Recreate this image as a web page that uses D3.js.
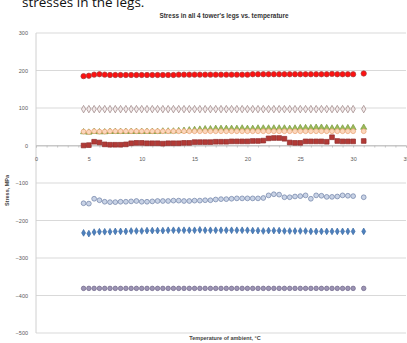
<!DOCTYPE html>
<html><head><meta charset="utf-8">
<script src="https://cdn.jsdelivr.net/npm/d3@7"></script>
<style>body{margin:0;background:#fff;}svg{display:block;}</style>
</head><body>
<script>
const temps = [4.5,5,5.5,6,6.5,7,7.5,8,8.5,9,9.5,10,10.5,11,11.5,12,12.5,13,13.5,14,14.5,15,15.5,16,16.5,17,17.5,18,18.5,19,19.5,20,20.5,21,21.5,22,22.5,23,23.5,24,24.5,25,25.5,26,26.5,27,27.5,28,28.5,29,29.5,30,31];
const legA = [185,186,189,190,189,188,188,188,188,188,188,188,188,188,188,188,188,188,189,189,189,189,189,189,189,189,189,189,189,189,189,189,190,190,190,190,190,190,190,190,190,190,190,190,190,190,190,191,190,190,190,190,192];
const legB = [97,97,97,97,97,97,97,97,97,97,97,97,97,97,97,97,97,97,97,97,97,97,97,97,97,97,97,97,97,97,97,97,97,97,97,97,97,97,97,97,97,97,97,97,97,97,97,97,97,97,97,97,97];
const legC = [37,36,38,37,37,38,38,38,38,38,38,38,38,38,38,38,38,38,38,38,38,38,38,38,38,38,38,38,38,38,38,38,38,38,38,38,38,38,38,38,38,38,38,38,38,38,38,38,38,38,38,38,38];
const legD = [36,35,37,36,36,37,37,37,37,37,37,37,37,37,37,38,38,38,39,40,41,42,43,44,44,45,45,45,45,45,46,45,45,46,46,46,46,46,46,45,46,47,47,47,48,48,47,46,47,46,47,47,48];
const legE = [0,1,10,8,3,2,2,2,3,6,7,7,6,6,6,5,6,6,6,7,7,9,9,9,9,10,10,10,11,11,11,11,12,12,13,19,20,20,18,8,7,7,11,11,11,11,10,22,12,11,11,11,12];
const legF = [-154,-155,-142,-146,-150,-151,-151,-150,-150,-149,-148,-150,-150,-149,-148,-148,-148,-147,-147,-148,-148,-147,-147,-146,-146,-144,-143,-143,-142,-141,-141,-141,-141,-141,-140,-133,-130,-131,-138,-138,-136,-135,-133,-142,-133,-134,-137,-137,-136,-133,-134,-135,-138];
const legG = [-233,-235,-231,-230,-230,-230,-229,-229,-229,-228,-228,-228,-227,-227,-227,-227,-226,-226,-226,-226,-226,-226,-225,-226,-226,-226,-226,-226,-226,-226,-226,-226,-227,-227,-228,-227,-227,-227,-228,-228,-228,-228,-228,-229,-229,-229,-229,-229,-229,-229,-229,-229,-229];
const legH = [-381,-381,-381,-381,-381,-381,-381,-381,-381,-381,-381,-381,-381,-381,-381,-381,-381,-381,-381,-381,-381,-381,-381,-381,-381,-381,-381,-381,-381,-381,-381,-381,-381,-381,-381,-381,-381,-381,-381,-381,-381,-381,-381,-381,-381,-381,-381,-381,-381,-381,-381,-381,-381];
const xTicks = [0,5,10,15,20,25,30,35];
const yTicks = [300,200,100,0,-100,-200,-300,-400,-500];

const W = 407, H = 343;
const svg = d3.select("body").append("svg").attr("width", W).attr("height", H);
const x = d3.scaleLinear().domain([0,35]).range([36,406]);
const y = d3.scaleLinear().domain([-500,300]).range([333,33]);

svg.append("text").attr("x",22).attr("y",7).attr("font-family","Open Sans, sans-serif")
  .attr("font-size",13.5).attr("fill","#111").text("stresses in the legs.");

svg.append("text").attr("x",224).attr("y",18).attr("text-anchor","middle")
  .attr("font-family","Liberation Sans, Arial, sans-serif").attr("font-size",6.4)
  .attr("font-weight","bold").attr("fill","#333").text("Stress in all 4 tower's legs vs. temperature");

svg.append("g").selectAll("line").data(yTicks).join("line")
  .attr("x1",36).attr("x2",406).attr("y1",d=>y(d)).attr("y2",d=>y(d))
  .attr("stroke",d=>d===0?"#c8c8c8":"#d9d9d9").attr("stroke-width",1);
svg.append("line").attr("x1",36).attr("x2",36).attr("y1",y(300)).attr("y2",y(-500)).attr("stroke","#d0d0d0");

const yAxis = d3.axisLeft(y).tickValues(yTicks).tickSize(0).tickPadding(8);
const gy = svg.append("g").attr("transform","translate(36,0)").call(yAxis);
gy.select(".domain").remove();
gy.selectAll("text").attr("font-family","Liberation Sans, Arial, sans-serif").attr("font-size",5.5).attr("fill","#595959");

const xAxis = d3.axisBottom(x).tickValues(d3.range(0,36,1)).tickSize(2).tickFormat(d=>xTicks.includes(d)?d:"");
const gx = svg.append("g").attr("transform",`translate(0,${y(0)})`).call(xAxis);
gx.select(".domain").attr("stroke","#c8c8c8");
gx.selectAll(".tick line").attr("stroke","#c0c0c0");
gx.selectAll("text").attr("font-family","Liberation Sans, Arial, sans-serif").attr("font-size",5.5).attr("fill","#595959").attr("dy","1.9em");

svg.append("text").attr("transform",`translate(9,${y(-120)}) rotate(-90)`).attr("text-anchor","middle")
  .attr("font-family","Liberation Sans, Arial, sans-serif").attr("font-size",5.5).attr("font-weight","bold").attr("fill","#444").text("Stress, MPa");
svg.append("text").attr("x",225).attr("y",340).attr("text-anchor","middle")
  .attr("font-family","Liberation Sans, Arial, sans-serif").attr("font-size",5.5).attr("font-weight","bold").attr("fill","#444").text("Temperature of ambient, °C");

const series = [
  {v:legE, sym:d3.symbolSquare, size:22, fill:"#b23a36", stroke:"#8f2a28"},
  {v:legD, sym:d3.symbolTriangle, size:16, fill:"#9bbb59", stroke:"#7a9a40"},
  {v:legC, sym:d3.symbolCircle, size:18, fill:"#fbd7bd", stroke:"#e8a070"},
  {v:legB, sym:d3.symbolDiamond, size:16, fill:"#f2eaea", stroke:"#9a8080"},
  {v:legA, sym:d3.symbolCircle, size:22, fill:"#ff1010", stroke:"#a04040"},
  {v:legF, sym:d3.symbolCircle, size:18, fill:"#c9d3e6", stroke:"#6d7fa5"},
  {v:legG, sym:d3.symbolDiamond, size:13, fill:"#4f81bd", stroke:"#3a6aa5"},
  {v:legH, sym:d3.symbolCircle, size:16, fill:"#9d95b5", stroke:"#6e6688"}
];
series.forEach(s=>{
  svg.append("g").selectAll("path").data(s.v).join("path")
    .attr("transform",(d,i)=>`translate(${x(temps[i])},${y(d)})`)
    .attr("d",d3.symbol().type(s.sym).size(s.size)())
    .attr("fill",s.fill).attr("stroke",s.stroke).attr("stroke-width",0.7);
});
</script>
</body></html>
